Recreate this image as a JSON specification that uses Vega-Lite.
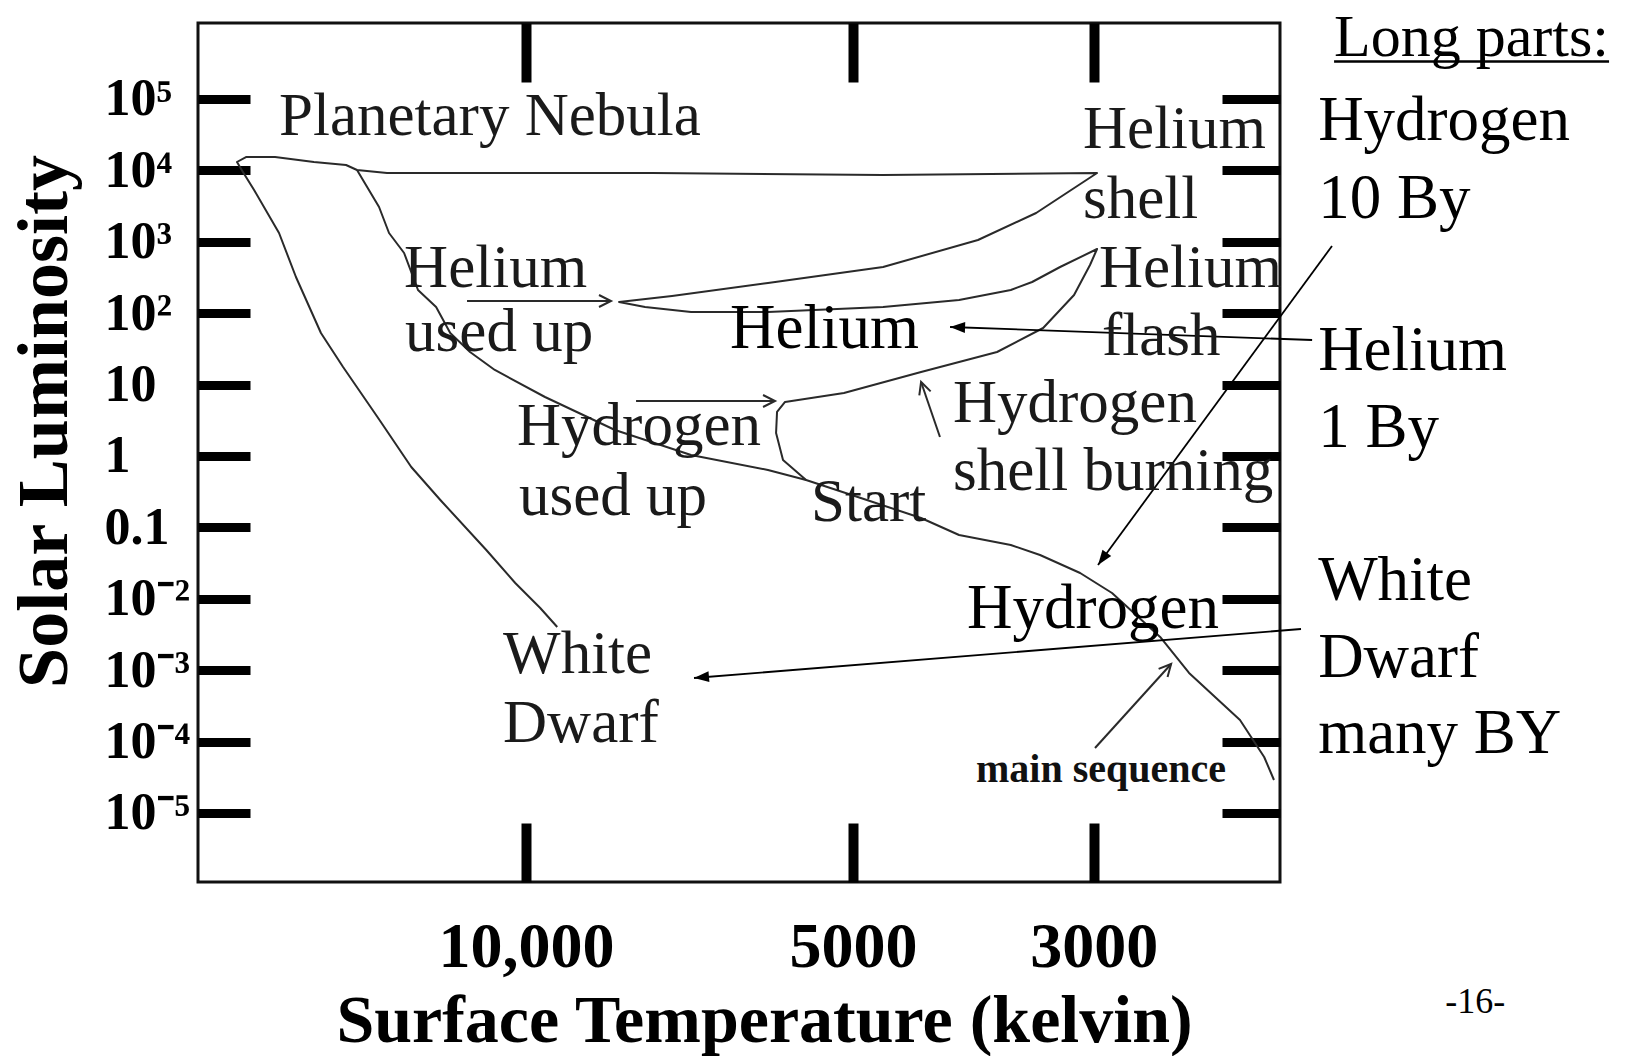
{
  "$schema": "https://vega.github.io/schema/vega-lite/v6.json",
  "width": 1082,
  "height": 859,
  "autosize": {"type": "none"},
  "padding": {"left": 198, "top": 23, "right": 348, "bottom": 174},
  "background": "white",
  "config": {"view": {"stroke": "#111111", "strokeWidth": 3}, "font": "Liberation Serif"},
  "datasets": {
    "tracks": [
      {"series": "main sequence", "i": 1, "T": 14314, "L": 10120},
      {"series": "main sequence", "i": 2, "T": 13660, "L": 3069},
      {"series": "main sequence", "i": 3, "T": 13374, "L": 1327},
      {"series": "main sequence", "i": 4, "T": 12953, "L": 696.2},
      {"series": "main sequence", "i": 5, "T": 12577, "L": 211.1},
      {"series": "main sequence", "i": 6, "T": 12103, "L": 122.0},
      {"series": "main sequence", "i": 7, "T": 11746, "L": 52.76},
      {"series": "main sequence", "i": 8, "T": 11263, "L": 28.59},
      {"series": "main sequence", "i": 9, "T": 10686, "L": 16.0},
      {"series": "main sequence", "i": 10, "T": 9607, "L": 6.698},
      {"series": "main sequence", "i": 11, "T": 8282, "L": 2.311},
      {"series": "main sequence", "i": 12, "T": 7048, "L": 1.032},
      {"series": "main sequence", "i": 13, "T": 5987, "L": 0.6362},
      {"series": "main sequence", "i": 14, "T": 5522, "L": 0.4607},
      {"series": "main sequence", "i": 15, "T": 4925, "L": 0.2602},
      {"series": "main sequence", "i": 16, "T": 4327, "L": 0.1353},
      {"series": "main sequence", "i": 17, "T": 3992, "L": 0.07818},
      {"series": "main sequence", "i": 18, "T": 3577, "L": 0.05664},
      {"series": "main sequence", "i": 19, "T": 3362, "L": 0.04103},
      {"series": "main sequence", "i": 20, "T": 3088, "L": 0.02296},
      {"series": "main sequence", "i": 21, "T": 2886, "L": 0.01204},
      {"series": "main sequence", "i": 22, "T": 2606, "L": 0.002915},
      {"series": "main sequence", "i": 23, "T": 2451, "L": 0.0009129},
      {"series": "main sequence", "i": 24, "T": 2200, "L": 0.0002005},
      {"series": "main sequence", "i": 25, "T": 2090, "L": 0.00006081},
      {"series": "main sequence", "i": 26, "T": 2047, "L": 0.00002896},
      {"series": "sun", "i": 1, "T": 5522, "L": 0.4607},
      {"series": "sun", "i": 2, "T": 5799, "L": 0.8783},
      {"series": "sun", "i": 3, "T": 5885, "L": 2.097},
      {"series": "sun", "i": 4, "T": 5873, "L": 4.129},
      {"series": "sun", "i": 5, "T": 5774, "L": 5.7},
      {"series": "sun", "i": 6, "T": 5096, "L": 7.619},
      {"series": "sun", "i": 7, "T": 4327, "L": 15.0},
      {"series": "sun", "i": 8, "T": 3683, "L": 28.59},
      {"series": "sun", "i": 9, "T": 3340, "L": 61.99},
      {"series": "sun", "i": 10, "T": 3128, "L": 179.7},
      {"series": "sun", "i": 11, "T": 3024, "L": 472.7},
      {"series": "sun", "i": 12, "T": 2979, "L": 791.9},
      {"series": "sun", "i": 13, "T": 3222, "L": 443.2},
      {"series": "sun", "i": 14, "T": 3419, "L": 273.2},
      {"series": "sun", "i": 15, "T": 3577, "L": 211.1},
      {"series": "sun", "i": 16, "T": 3992, "L": 152.9},
      {"series": "sun", "i": 17, "T": 4690, "L": 122.0},
      {"series": "sun", "i": 18, "T": 5987, "L": 103.8},
      {"series": "sun", "i": 19, "T": 7048, "L": 103.8},
      {"series": "sun", "i": 20, "T": 7770, "L": 122.0},
      {"series": "sun", "i": 21, "T": 8211, "L": 143.3},
      {"series": "sun", "i": 22, "T": 7338, "L": 174.0},
      {"series": "sun", "i": 23, "T": 5987, "L": 264.6},
      {"series": "sun", "i": 24, "T": 4690, "L": 443.2},
      {"series": "sun", "i": 25, "T": 3835, "L": 1059},
      {"series": "sun", "i": 26, "T": 3390, "L": 2529},
      {"series": "sun", "i": 27, "T": 2979, "L": 9188},
      {"series": "sun", "i": 28, "T": 4690, "L": 8613},
      {"series": "sun", "i": 29, "T": 7640, "L": 9188},
      {"series": "sun", "i": 30, "T": 13431, "L": 9188},
      {"series": "sun", "i": 31, "T": 14314, "L": 10120},
      {"series": "sun", "i": 32, "T": 14650, "L": 11890},
      {"series": "sun", "i": 33, "T": 15683, "L": 13100},
      {"series": "sun", "i": 34, "T": 17031, "L": 15390},
      {"series": "sun", "i": 35, "T": 18115, "L": 15390},
      {"series": "sun", "i": 36, "T": 18464, "L": 13100},
      {"series": "sun", "i": 37, "T": 18232, "L": 9489},
      {"series": "sun", "i": 38, "T": 17806, "L": 5310},
      {"series": "sun", "i": 39, "T": 16888, "L": 1327},
      {"series": "sun", "i": 40, "T": 16293, "L": 321.1},
      {"series": "sun", "i": 41, "T": 15452, "L": 52.76},
      {"series": "sun", "i": 42, "T": 14743, "L": 17.62},
      {"series": "sun", "i": 43, "T": 13706, "L": 3.514},
      {"series": "sun", "i": 44, "T": 12758, "L": 0.7007},
      {"series": "sun", "i": 45, "T": 11995, "L": 0.2418},
      {"series": "sun", "i": 46, "T": 10881, "L": 0.0482},
      {"series": "sun", "i": 47, "T": 10233, "L": 0.01663},
      {"series": "sun", "i": 48, "T": 9705, "L": 0.007425},
      {"series": "sun", "i": 49, "T": 9361, "L": 0.004024}
    ],
    "trackArrows": [
      {"T": 11335, "L": 148.0, "T2": 8352, "L2": 148.0, "angle": 90},
      {"T": 7920, "L": 5.887, "T2": 5898, "L2": 5.887, "angle": 90},
      {"T": 4157, "L": 1.844, "T2": 4327, "L2": 10.87, "angle": 341},
      {"T": 2992, "L": 0.00008126, "T2": 2546, "L2": 0.00122, "angle": 42}
    ],
    "noteArrows": [
      {"T": 1888, "L": 42.1, "T2": 4069, "L2": 64.03, "angle": 272},
      {"T": 1810, "L": 872.6, "T2": 2973, "L2": 0.02972, "angle": 216},
      {"T": 1933, "L": 0.003772, "T2": 7004, "L2": 0.0007767, "angle": 265}
    ],
    "underline": [
      {"T": 1802, "T2": 1005.7, "L": 334000}
    ],
    "plotLabels": [
      {"label": "Planetary Nebula", "T": 16888, "L": 31290},
      {"label": "Helium", "T": 3069, "L": 20575},
      {"label": "shell", "T": 3069, "L": 2153},
      {"label": "Helium", "T": 2967, "L": 232.6},
      {"label": "flash", "T": 2948, "L": 25.95},
      {"label": "Helium", "T": 12953, "L": 232.6},
      {"label": "used up", "T": 12926, "L": 29.52},
      {"label": "Hydrogen", "T": 10194, "L": 1.425},
      {"label": "used up", "T": 10151, "L": 0.149},
      {"label": "Start", "T": 5464, "L": 0.1228},
      {"label": "Hydrogen", "T": 4044, "L": 2.991},
      {"label": "shell burning", "T": 4044, "L": 0.3337},
      {"label": "White", "T": 10501, "L": 0.0009129},
      {"label": "Dwarf", "T": 10501, "L": 0.00009863}
    ],
    "noteLabels": [
      {"label": "Helium", "T": 6489, "L": 32.53},
      {"label": "Hydrogen", "T": 3925, "L": 0.003895},
      {"label": "Hydrogen", "T": 1864, "L": 26630},
      {"label": "10 By", "T": 1864, "L": 2153},
      {"label": "Helium", "T": 1864, "L": 16.0},
      {"label": "1 By", "T": 1864, "L": 1.335},
      {"label": "White", "T": 1864, "L": 0.009612},
      {"label": "Dwarf", "T": 1864, "L": 0.0008023},
      {"label": "many BY", "T": 1864, "L": 0.00006916}
    ],
    "headingLabels": [
      {"label": "Long parts:", "T": 1802, "L": 399800}
    ],
    "smallLabels": [
      {"label": "main sequence", "T": 3851, "L": 0.00002715}
    ],
    "pageLabels": [
      {"label": "-16-", "T": 1336, "L": 0.0000000158}
    ]
  },
  "layer": [
    {
      "data": {"name": "tracks"},
      "mark": {"type": "line", "stroke": "#2a2a2a", "strokeWidth": 2, "strokeJoin": "round"},
      "encoding": {
        "x": {
          "field": "T", "type": "quantitative",
          "scale": {"type": "log", "domain": [2021, 20055], "reverse": true, "nice": false},
          "axis": {
            "orient": "bottom", "values": [10000, 5000, 3000],
            "labelExpr": "datum.value == 10000 ? '10,000' : '' + datum.value",
            "labelFont": "Liberation Serif", "labelFontSize": 64, "labelFontWeight": "bold", "labelColor": "black",
            "labelBaseline": "alphabetic", "labelPadding": 143, "labelOverlap": false, "labelFlush": false, "labelLimit": 0,
            "tickSize": -59, "tickWidth": 10, "tickColor": "black", "domain": false, "grid": false,
            "title": "Surface Temperature (kelvin)", "titleFont": "Liberation Serif", "titleFontSize": 68,
            "titleFontWeight": "bold", "titleColor": "black", "titleBaseline": "alphabetic", "titleLimit": 0,
            "titleX": 566, "titleY": 159
          }
        },
        "y": {
          "field": "L", "type": "quantitative",
          "scale": {"type": "log", "domain": [0.000001079, 1159000], "nice": false},
          "axis": {
            "orient": "left",
            "values": [100000, 10000, 1000, 100, 10, 1, 0.1, 0.01, 0.001, 0.0001, 0.00001],
            "labelExpr": "['10⁻⁵','10⁻⁴','10⁻³','10⁻²','0.1','1','10','10²','10³','10⁴','10⁵'][round(log(datum.value)/LN10)+5]",
            "labelFont": "Liberation Serif", "labelFontSize": 52, "labelFontWeight": "bold", "labelColor": "black",
            "labelAlign": "left", "labelBaseline": "middle", "labelPadding": 146, "labelOverlap": false, "labelFlush": false, "labelLimit": 0,
            "tickSize": -52, "tickWidth": 9, "tickColor": "black", "domain": false, "grid": false,
            "title": "Solar Luminosity", "titleFont": "Liberation Serif", "titleFontSize": 72,
            "titleFontWeight": "bold", "titleColor": "black", "titleBaseline": "alphabetic", "titleLimit": 0,
            "titleAngle": 270, "titleAlign": "center", "titleX": -132, "titleY": 398
          }
        },
        "detail": {"field": "series", "type": "nominal"},
        "order": {"field": "i", "type": "quantitative"}
      }
    },
    {
      "data": {"name": "trackArrows"},
      "mark": {"type": "rule", "stroke": "#2a2a2a", "strokeWidth": 2},
      "encoding": {
        "x": {
          "field": "T", "type": "quantitative",
          "scale": {"type": "log", "domain": [2021, 20055], "reverse": true, "nice": false},
          "axis": {"orient": "top", "values": [10000, 5000, 3000], "labels": false, "tickSize": -59, "tickWidth": 10,
                   "tickColor": "black", "domain": false, "grid": false, "title": null}
        },
        "y": {
          "field": "L", "type": "quantitative",
          "scale": {"type": "log", "domain": [0.000001079, 1159000], "nice": false},
          "axis": {"orient": "right", "values": [100000, 10000, 1000, 100, 10, 1, 0.1, 0.01, 0.001, 0.0001, 0.00001],
                   "labels": false, "tickSize": -58, "tickWidth": 9, "tickColor": "black", "domain": false, "grid": false, "title": null}
        },
        "x2": {"field": "T2"},
        "y2": {"field": "L2"}
      }
    },
    {
      "data": {"name": "trackArrows"},
      "mark": {"type": "point", "shape": "M-0.5,1L0,0L0.5,1", "filled": false, "stroke": "#2a2a2a", "strokeWidth": 2, "size": 576, "opacity": 1},
      "encoding": {
        "x": {"field": "T2", "type": "quantitative", "scale": {"type": "log", "domain": [2021, 20055], "reverse": true, "nice": false}, "axis": null},
        "y": {"field": "L2", "type": "quantitative", "scale": {"type": "log", "domain": [0.000001079, 1159000], "nice": false}, "axis": null},
        "angle": {"field": "angle", "type": "quantitative", "scale": null}
      }
    },
    {
      "data": {"name": "noteArrows"},
      "mark": {"type": "rule", "stroke": "black", "strokeWidth": 1.8},
      "encoding": {
        "x": {"field": "T", "type": "quantitative", "scale": {"type": "log", "domain": [2021, 20055], "reverse": true, "nice": false}, "axis": null},
        "y": {"field": "L", "type": "quantitative", "scale": {"type": "log", "domain": [0.000001079, 1159000], "nice": false}, "axis": null},
        "x2": {"field": "T2"},
        "y2": {"field": "L2"}
      }
    },
    {
      "data": {"name": "noteArrows"},
      "mark": {"type": "point", "shape": "M0,0L-0.36,1L0.36,1Z", "filled": true, "color": "black", "size": 900, "opacity": 1},
      "encoding": {
        "x": {"field": "T2", "type": "quantitative", "scale": {"type": "log", "domain": [2021, 20055], "reverse": true, "nice": false}, "axis": null},
        "y": {"field": "L2", "type": "quantitative", "scale": {"type": "log", "domain": [0.000001079, 1159000], "nice": false}, "axis": null},
        "angle": {"field": "angle", "type": "quantitative", "scale": null}
      }
    },
    {
      "data": {"name": "underline"},
      "mark": {"type": "rule", "stroke": "black", "strokeWidth": 2.5},
      "encoding": {
        "x": {"field": "T", "type": "quantitative", "scale": {"type": "log", "domain": [2021, 20055], "reverse": true, "nice": false}, "axis": null},
        "x2": {"field": "T2"},
        "y": {"field": "L", "type": "quantitative", "scale": {"type": "log", "domain": [0.000001079, 1159000], "nice": false}, "axis": null}
      }
    },
    {
      "data": {"name": "plotLabels"},
      "mark": {"type": "text", "font": "Liberation Serif", "fontSize": 61, "color": "#1a1a1a", "align": "left", "baseline": "alphabetic"},
      "encoding": {
        "x": {"field": "T", "type": "quantitative", "scale": {"type": "log", "domain": [2021, 20055], "reverse": true, "nice": false}, "axis": null},
        "y": {"field": "L", "type": "quantitative", "scale": {"type": "log", "domain": [0.000001079, 1159000], "nice": false}, "axis": null},
        "text": {"field": "label"}
      }
    },
    {
      "data": {"name": "noteLabels"},
      "mark": {"type": "text", "font": "Liberation Serif", "fontSize": 63, "color": "black", "align": "left", "baseline": "alphabetic"},
      "encoding": {
        "x": {"field": "T", "type": "quantitative", "scale": {"type": "log", "domain": [2021, 20055], "reverse": true, "nice": false}, "axis": null},
        "y": {"field": "L", "type": "quantitative", "scale": {"type": "log", "domain": [0.000001079, 1159000], "nice": false}, "axis": null},
        "text": {"field": "label"}
      }
    },
    {
      "data": {"name": "headingLabels"},
      "mark": {"type": "text", "font": "Liberation Serif", "fontSize": 60, "color": "black", "align": "left", "baseline": "alphabetic"},
      "encoding": {
        "x": {"field": "T", "type": "quantitative", "scale": {"type": "log", "domain": [2021, 20055], "reverse": true, "nice": false}, "axis": null},
        "y": {"field": "L", "type": "quantitative", "scale": {"type": "log", "domain": [0.000001079, 1159000], "nice": false}, "axis": null},
        "text": {"field": "label"}
      }
    },
    {
      "data": {"name": "smallLabels"},
      "mark": {"type": "text", "font": "Liberation Serif", "fontSize": 40, "fontWeight": "bold", "color": "#111111", "align": "left", "baseline": "alphabetic"},
      "encoding": {
        "x": {"field": "T", "type": "quantitative", "scale": {"type": "log", "domain": [2021, 20055], "reverse": true, "nice": false}, "axis": null},
        "y": {"field": "L", "type": "quantitative", "scale": {"type": "log", "domain": [0.000001079, 1159000], "nice": false}, "axis": null},
        "text": {"field": "label"}
      }
    },
    {
      "data": {"name": "pageLabels"},
      "mark": {"type": "text", "font": "Liberation Serif", "fontSize": 36, "color": "black", "align": "center", "baseline": "alphabetic"},
      "encoding": {
        "x": {"field": "T", "type": "quantitative", "scale": {"type": "log", "domain": [2021, 20055], "reverse": true, "nice": false}, "axis": null},
        "y": {"field": "L", "type": "quantitative", "scale": {"type": "log", "domain": [0.000001079, 1159000], "nice": false}, "axis": null},
        "text": {"field": "label"}
      }
    }
  ],
  "resolve": {"axis": {"x": "independent", "y": "independent"}}
}
